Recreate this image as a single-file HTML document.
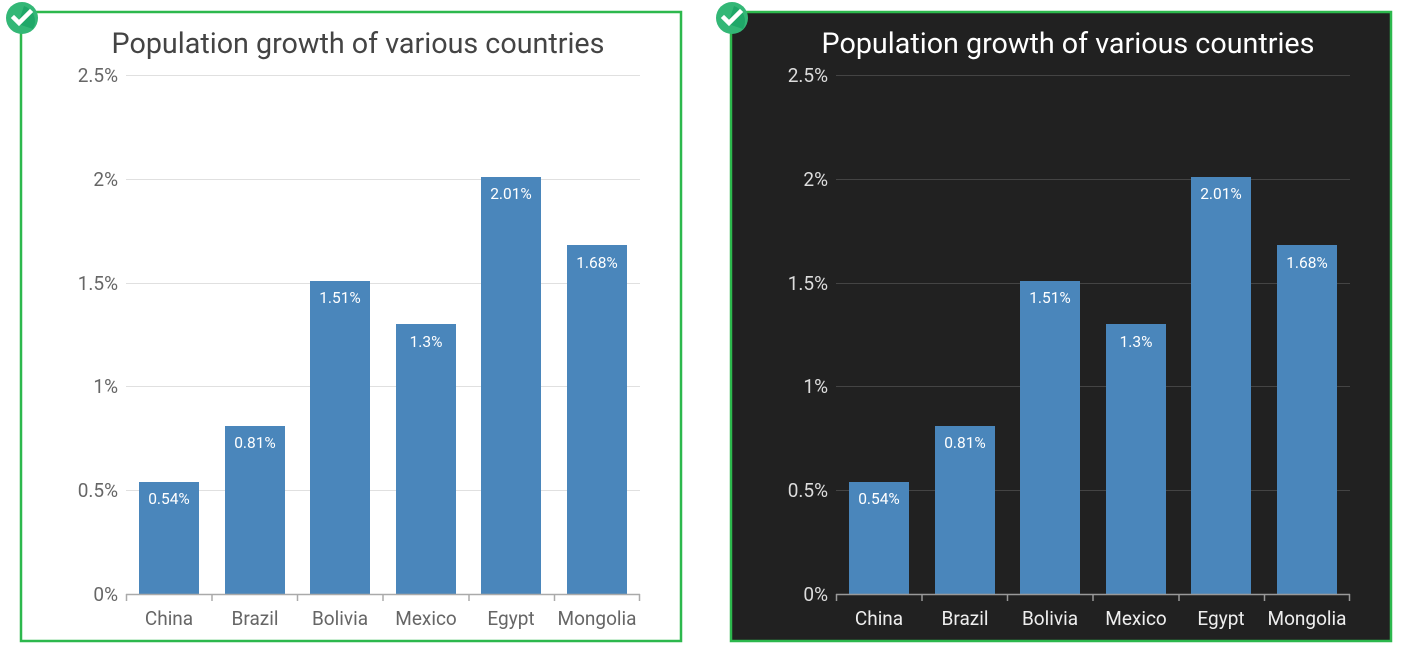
<!DOCTYPE html><html><head><style>body{margin:0;background:#fff}</style></head><body>
<svg width="1428" height="663" xmlns="http://www.w3.org/2000/svg" font-family="Roboto, 'Liberation Sans', sans-serif">
<defs>
<g id="chk"><circle r="16" fill="#33b776"/><path d="M2,-12 A16,16 0 0 1 11,11 L-4,6 Z" fill="#17a062" opacity="0.7"/><path d="M-8,0 L-3,5 L8,-6" stroke="#fff" stroke-width="4.5" fill="none" stroke-linecap="square"/></g>
</defs>
<rect x="21" y="12" width="660" height="629" fill="#fff" stroke="#2db84d" stroke-width="2.5"/>
<rect x="731" y="12" width="660" height="629" fill="#212121" stroke="#2db84d" stroke-width="2.5"/>
<g font-size="19">
<text x="358" y="53" text-anchor="middle" font-size="28.7" fill="#444">Population growth of various countries</text>
<g stroke="#e0e0e0" stroke-width="1"><line x1="126" x2="640" y1="75.5" y2="75.5"/><line x1="126" x2="640" y1="179.5" y2="179.5"/><line x1="126" x2="640" y1="283.5" y2="283.5"/><line x1="126" x2="640" y1="386.5" y2="386.5"/><line x1="126" x2="640" y1="490.5" y2="490.5"/></g>
<g fill="#666" text-anchor="end"><text x="118" y="82">2.5%</text><text x="118" y="186">2%</text><text x="118" y="290">1.5%</text><text x="118" y="393">1%</text><text x="118" y="497">0.5%</text><text x="118" y="601">0%</text></g>
<g fill="#4a86bb"><rect x="139" y="482" width="60" height="112"/><rect x="225" y="426" width="60" height="168"/><rect x="310" y="281" width="60" height="313"/><rect x="396" y="324" width="60" height="270"/><rect x="481" y="177" width="60" height="417"/><rect x="567" y="245" width="60" height="349"/></g>
<g fill="#fff" font-size="15.5" text-anchor="middle"><text x="169" y="504">0.54%</text><text x="255" y="448">0.81%</text><text x="340" y="303">1.51%</text><text x="426" y="347">1.3%</text><text x="511" y="199">2.01%</text><text x="597" y="268">1.68%</text></g>
<g stroke="#aaa" stroke-width="1.5"><line x1="126" x2="640" y1="594.5" y2="594.5"/><line x1="126.5" x2="126.5" y1="594" y2="601"/><line x1="212" x2="212" y1="594" y2="601"/><line x1="297.5" x2="297.5" y1="594" y2="601"/><line x1="383" x2="383" y1="594" y2="601"/><line x1="469" x2="469" y1="594" y2="601"/><line x1="554.5" x2="554.5" y1="594" y2="601"/><line x1="639.5" x2="639.5" y1="594" y2="601"/></g>
<g fill="#666" text-anchor="middle"><text x="169" y="625">China</text><text x="255" y="625">Brazil</text><text x="340" y="625">Bolivia</text><text x="426" y="625">Mexico</text><text x="511" y="625">Egypt</text><text x="597" y="625">Mongolia</text></g>
<g transform="translate(710,0)">
<text x="358" y="53" text-anchor="middle" font-size="28.7" fill="#fff">Population growth of various countries</text>
<g stroke="#444" stroke-width="1"><line x1="126" x2="640" y1="75.5" y2="75.5"/><line x1="126" x2="640" y1="179.5" y2="179.5"/><line x1="126" x2="640" y1="283.5" y2="283.5"/><line x1="126" x2="640" y1="386.5" y2="386.5"/><line x1="126" x2="640" y1="490.5" y2="490.5"/></g>
<g fill="#ddd" text-anchor="end"><text x="118" y="82">2.5%</text><text x="118" y="186">2%</text><text x="118" y="290">1.5%</text><text x="118" y="393">1%</text><text x="118" y="497">0.5%</text><text x="118" y="601">0%</text></g>
<g fill="#4a86bb"><rect x="139" y="482" width="60" height="112"/><rect x="225" y="426" width="60" height="168"/><rect x="310" y="281" width="60" height="313"/><rect x="396" y="324" width="60" height="270"/><rect x="481" y="177" width="60" height="417"/><rect x="567" y="245" width="60" height="349"/></g>
<g fill="#fff" font-size="15.5" text-anchor="middle"><text x="169" y="504">0.54%</text><text x="255" y="448">0.81%</text><text x="340" y="303">1.51%</text><text x="426" y="347">1.3%</text><text x="511" y="199">2.01%</text><text x="597" y="268">1.68%</text></g>
<g stroke="#999" stroke-width="1.5"><line x1="126" x2="640" y1="594.5" y2="594.5"/><line x1="126.5" x2="126.5" y1="594" y2="601"/><line x1="212" x2="212" y1="594" y2="601"/><line x1="297.5" x2="297.5" y1="594" y2="601"/><line x1="383" x2="383" y1="594" y2="601"/><line x1="469" x2="469" y1="594" y2="601"/><line x1="554.5" x2="554.5" y1="594" y2="601"/><line x1="639.5" x2="639.5" y1="594" y2="601"/></g>
<g fill="#eee" text-anchor="middle"><text x="169" y="625">China</text><text x="255" y="625">Brazil</text><text x="340" y="625">Bolivia</text><text x="426" y="625">Mexico</text><text x="511" y="625">Egypt</text><text x="597" y="625">Mongolia</text></g>
</g>
</g>
<use href="#chk" x="22" y="18"/>
<use href="#chk" x="732" y="18"/>
</svg>
</body></html>
